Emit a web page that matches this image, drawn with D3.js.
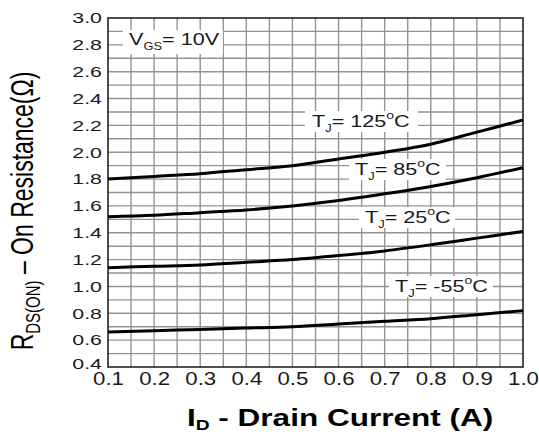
<!DOCTYPE html>
<html>
<head>
<meta charset="utf-8">
<script src="https://cdn.jsdelivr.net/npm/d3@7"></script>
<style>
  body { margin: 0; background: #fff; }
  svg { display: block; font-family: "Liberation Sans", Arial, sans-serif; }
</style>
</head>
<body>
<svg id="chart" width="539" height="434"></svg>
<script>
// data
const drainCurrent = [0.1, 0.2, 0.3, 0.4, 0.5, 0.6, 0.7, 0.8, 0.9, 1.0];
const rds125 = [1.80, 1.82, 1.84, 1.87, 1.90, 1.95, 2.00, 2.06, 2.15, 2.24];
const rds85 = [1.52, 1.53, 1.55, 1.57, 1.60, 1.64, 1.69, 1.745, 1.81, 1.885];
const rds25 = [1.14, 1.15, 1.16, 1.18, 1.20, 1.23, 1.265, 1.31, 1.36, 1.41];
const rdsM55 = [0.66, 0.67, 0.68, 0.69, 0.70, 0.72, 0.74, 0.76, 0.79, 0.82];
const xTicks = [0.1, 0.2, 0.3, 0.4, 0.5, 0.6, 0.7, 0.8, 0.9, 1.0];
const yTicks = [0.4, 0.6, 0.8, 1.0, 1.2, 1.4, 1.6, 1.8, 2.0, 2.2, 2.4, 2.6, 2.8, 3.0];

const svg = d3.select("#chart");
const plotL = 108, plotR = 523, plotT = 18, plotB = 367;
const ink = "#1a1a1a";

const x = d3.scaleLinear().domain([0.1, 1.0]).range([plotL, plotR]);
const y = d3.scaleLinear().domain([0.4, 3.0]).range([plotB, plotT]);

// grid: every 0.05 A across, every 0.1 ohm up
const g = svg.append("g");
g.selectAll(".vg").data(d3.range(0.15, 0.99, 0.05)).enter().append("line")
  .attr("x1", d => x(d)).attr("x2", d => x(d))
  .attr("y1", plotT).attr("y2", plotB)
  .attr("stroke", "#939393").attr("stroke-width", 1.4);
g.selectAll(".hg").data(d3.range(0.5, 2.95, 0.1)).enter().append("line")
  .attr("x1", plotL).attr("x2", plotR)
  .attr("y1", d => y(d)).attr("y2", d => y(d))
  .attr("stroke", "#939393").attr("stroke-width", 1.4);

// frame
svg.append("rect")
  .attr("x", plotL).attr("y", plotT)
  .attr("width", plotR - plotL).attr("height", plotB - plotT)
  .attr("fill", "none").attr("stroke", "#222").attr("stroke-width", 1.6);

// axes
const xAxis = svg.append("g")
  .attr("transform", `translate(0,${plotB})`)
  .call(d3.axisBottom(x).tickValues(xTicks).tickFormat(d3.format(".1f")).tickSize(0).tickPadding(6));
xAxis.select(".domain").remove();
xAxis.selectAll("text")
  .attr("font-size", 17.5).attr("fill", ink)
  .attr("font-family", "Liberation Sans, Arial, sans-serif")
  .attr("transform", "scale(1.27,1)");

const yAxis = svg.append("g")
  .attr("transform", `translate(${plotL},0)`)
  .call(d3.axisLeft(y).tickValues(yTicks).tickFormat(d3.format(".1f")).tickSize(0).tickPadding(4.3));
yAxis.select(".domain").remove();
yAxis.selectAll("text")
  .attr("font-size", 15).attr("fill", ink)
  .attr("font-family", "Liberation Sans, Arial, sans-serif")
  .attr("transform", "scale(1.42,1)");
// the lowest label sits a touch higher so it clears the 0.1 below it
yAxis.selectAll("text").filter(d => d === 0.4).attr("dy", "0.1em");

// curves
const line = d3.line()
  .x((d, i) => x(drainCurrent[i]))
  .y(d => y(d))
  .curve(d3.curveCatmullRom.alpha(0.5));

[rds125, rds85, rds25, rdsM55].forEach(s => {
  svg.append("path")
    .datum(s)
    .attr("d", line)
    .attr("fill", "none")
    .attr("stroke", "#000")
    .attr("stroke-width", 3);
});

// labels with white boxes
function label(px, py, box, parts, size, sx) {
  svg.append("rect")
    .attr("x", box[0]).attr("y", box[1])
    .attr("width", box[2]).attr("height", box[3])
    .attr("fill", "#fff");
  const t = svg.append("text")
    .attr("transform", `translate(${px},${py}) scale(${sx},1)`)
    .attr("font-size", size).attr("fill", ink);
  parts.forEach(p => {
    const ts = t.append("tspan").text(p.t);
    if (p.sub) ts.attr("font-size", size * 0.6).attr("dy", size * 0.3);
    if (p.sup) ts.attr("font-size", size * 0.65).attr("dy", -size * 0.45);
    if (p.back) ts.attr("dy", p.back);
  });
}

function tj(temp, px, py, box) {
  label(px, py, box, [
    { t: "T" },
    { t: "J", sub: true },
    { t: "= " + temp, back: -17 * 0.3 },
    { t: "o", sup: true },
    { t: "C", back: 17 * 0.45 }
  ], 17, 1.27);
}

tj("125", 312, 127, [305, 111, 113, 21]);
tj("85", 355, 175, [349, 159, 97, 21]);
tj("25", 365, 223, [359, 207, 96, 21]);
tj("-55", 395, 292, [389, 276, 104, 21]);

label(129, 45, [123, 30, 100, 24], [
  { t: "V" },
  { t: "GS", sub: true },
  { t: "= 10V", back: -17 * 0.3 }
], 17, 1.27);

// axis titles
const xt = svg.append("text")
  .attr("transform", "translate(187,426) scale(1.37,1)")
  .attr("font-size", 23).attr("font-weight", "bold").attr("fill", "#000");
xt.append("tspan").text("I");
xt.append("tspan").text("D").attr("font-size", 14).attr("dy", 3.5);
xt.append("tspan").text(" - Drain Current (A)").attr("dy", -3.5);

const yt = svg.append("text")
  .attr("transform", "translate(33,211) rotate(-90) scale(1,1.4)")
  .attr("text-anchor", "middle")
  .attr("font-size", 23).attr("fill", "#000");
yt.append("tspan").text("R");
yt.append("tspan").text("DS(ON)").attr("font-size", 15).attr("dy", 5);
yt.append("tspan").text(" – On Resistance(Ω)").attr("dy", -5);
</script>
</body>
</html>
